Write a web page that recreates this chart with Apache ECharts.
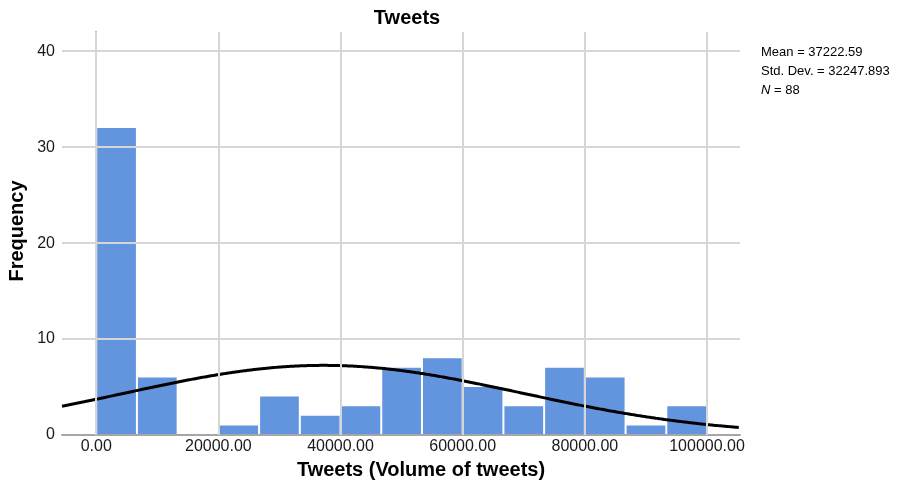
<!DOCTYPE html>
<html>
<head>
<meta charset="utf-8">
<script src="https://cdn.jsdelivr.net/npm/echarts@6/dist/echarts.min.js"></script>
<style>
  html, body { margin: 0; padding: 0; background: #fff; }
  #chart { width: 904px; height: 486px; }
</style>
</head>
<body>
<div id="chart"></div>
<script>
// Histogram of tweet volume: 15 equal-width bins from 0 to 100000
const binCounts = [32, 6, 0, 1, 4, 2, 3, 7, 8, 5, 3, 7, 6, 1, 3];
const binStartValue = 0;
const binEndValue = 100000;

// Summary statistics printed beside the plot
const statMean = 37222.59;
const statStdDev = 32247.893;
const statN = 88;

// Axis ticks
const xTickValues = [0, 20000, 40000, 60000, 80000, 100000];
const yTickValues = [0, 10, 20, 30, 40];

const xMin = -5600, xMax = 105400;
const yMin = 0, yMax = 42;

const FONT = '"Liberation Sans", Arial, sans-serif';

const binWidth = (binEndValue - binStartValue) / binCounts.length;
const binData = binCounts.map((c, i) => [
  binStartValue + i * binWidth,
  binStartValue + (i + 1) * binWidth,
  c
]);

// Normal curve scaled to the histogram (N * bin width * density)
const curveData = [];
for (let x = xMin; x <= xMax; x += 400) {
  const z = (x - statMean) / statStdDev;
  const dens = Math.exp(-0.5 * z * z) / (statStdDev * Math.sqrt(2 * Math.PI));
  curveData.push([x, statN * binWidth * dens]);
}

const gridColor = '#d6d6d6';
const gridLines = [];
xTickValues.forEach(v => gridLines.push({ xAxis: v }));
yTickValues.filter(v => v > 0).forEach(v => gridLines.push({ yAxis: v }));

const chart = echarts.init(document.getElementById('chart'), null, { renderer: 'canvas' });

chart.setOption({
  animation: false,
  backgroundColor: '#ffffff',
  grid: { left: 62, right: 164, top: 32, bottom: 51, containLabel: false },
  xAxis: {
    type: 'value',
    min: xMin,
    max: xMax,
    z: 4,
    axisLine: { show: true, lineStyle: { color: '#a6a6a6', width: 2 } },
    axisTick: { show: false },
    splitLine: { show: false },
    axisLabel: {
      customValues: xTickValues,
      formatter: v => v.toFixed(2),
      fontFamily: FONT,
      fontSize: 16,
      color: '#1a1a1a',
      margin: 4
    }
  },
  yAxis: {
    type: 'value',
    min: yMin,
    max: yMax,
    z: 4,
    axisLine: { show: true, lineStyle: { color: '#a6a6a6', width: 2 } },
    axisTick: { show: false },
    splitLine: { show: false },
    axisLabel: {
      customValues: yTickValues,
      fontFamily: FONT,
      fontSize: 16,
      color: '#1a1a1a',
      margin: 7
    }
  },
  series: [
    {
      // reference grid lines
      type: 'line',
      data: [],
      z: 1,
      silent: true,
      markLine: {
        silent: true,
        symbol: ['none', 'none'],
        label: { show: false },
        lineStyle: { color: gridColor, width: 2, type: 'solid' },
        emphasis: { disabled: true },
        data: gridLines
      }
    },
    {
      type: 'custom',
      z: 2,
      data: binData,
      renderItem: (params, api) => {
        if (api.value(2) <= 0) return null;
        const p0 = api.coord([api.value(0), api.value(2)]);
        const p1 = api.coord([api.value(1), 0]);
        return {
          type: 'rect',
          shape: { x: p0[0] + 1, y: p0[1], width: p1[0] - p0[0] - 2, height: p1[1] - p0[1] },
          style: { fill: '#6394de' }
        };
      }
    },
    {
      type: 'line',
      z: 3,
      data: curveData,
      showSymbol: false,
      smooth: true,
      lineStyle: { color: '#000000', width: 3 },
      silent: true
    }
  ],
  graphic: [
    {
      type: 'text', x: 407, y: 18,
      style: { text: 'Tweets', font: 'bold 20px ' + FONT, fill: '#000', align: 'center', verticalAlign: 'middle' }
    },
    {
      type: 'text', x: 421, y: 470,
      style: { text: 'Tweets (Volume of tweets)', font: 'bold 20px ' + FONT, fill: '#000', align: 'center', verticalAlign: 'middle' }
    },
    {
      type: 'text', x: 17, y: 231, rotation: Math.PI / 2,
      style: { text: 'Frequency', font: 'bold 20px ' + FONT, fill: '#000', align: 'center', verticalAlign: 'middle' }
    },
    {
      type: 'text', x: 761, y: 52,
      style: { text: 'Mean = ' + statMean.toFixed(2), font: '13px ' + FONT, fill: '#000', align: 'left', verticalAlign: 'middle' }
    },
    {
      type: 'text', x: 761, y: 71,
      style: { text: 'Std. Dev. = ' + statStdDev.toFixed(3), font: '13px ' + FONT, fill: '#000', align: 'left', verticalAlign: 'middle' }
    },
    {
      type: 'text', x: 761, y: 90,
      style: {
        text: '{i|N} = ' + statN,
        font: '13px ' + FONT, fill: '#000', align: 'left', verticalAlign: 'middle',
        rich: { i: { fontStyle: 'italic', fontFamily: FONT, fontSize: 13, fill: '#000' } }
      }
    }
  ]
});
</script>
</body>
</html>
